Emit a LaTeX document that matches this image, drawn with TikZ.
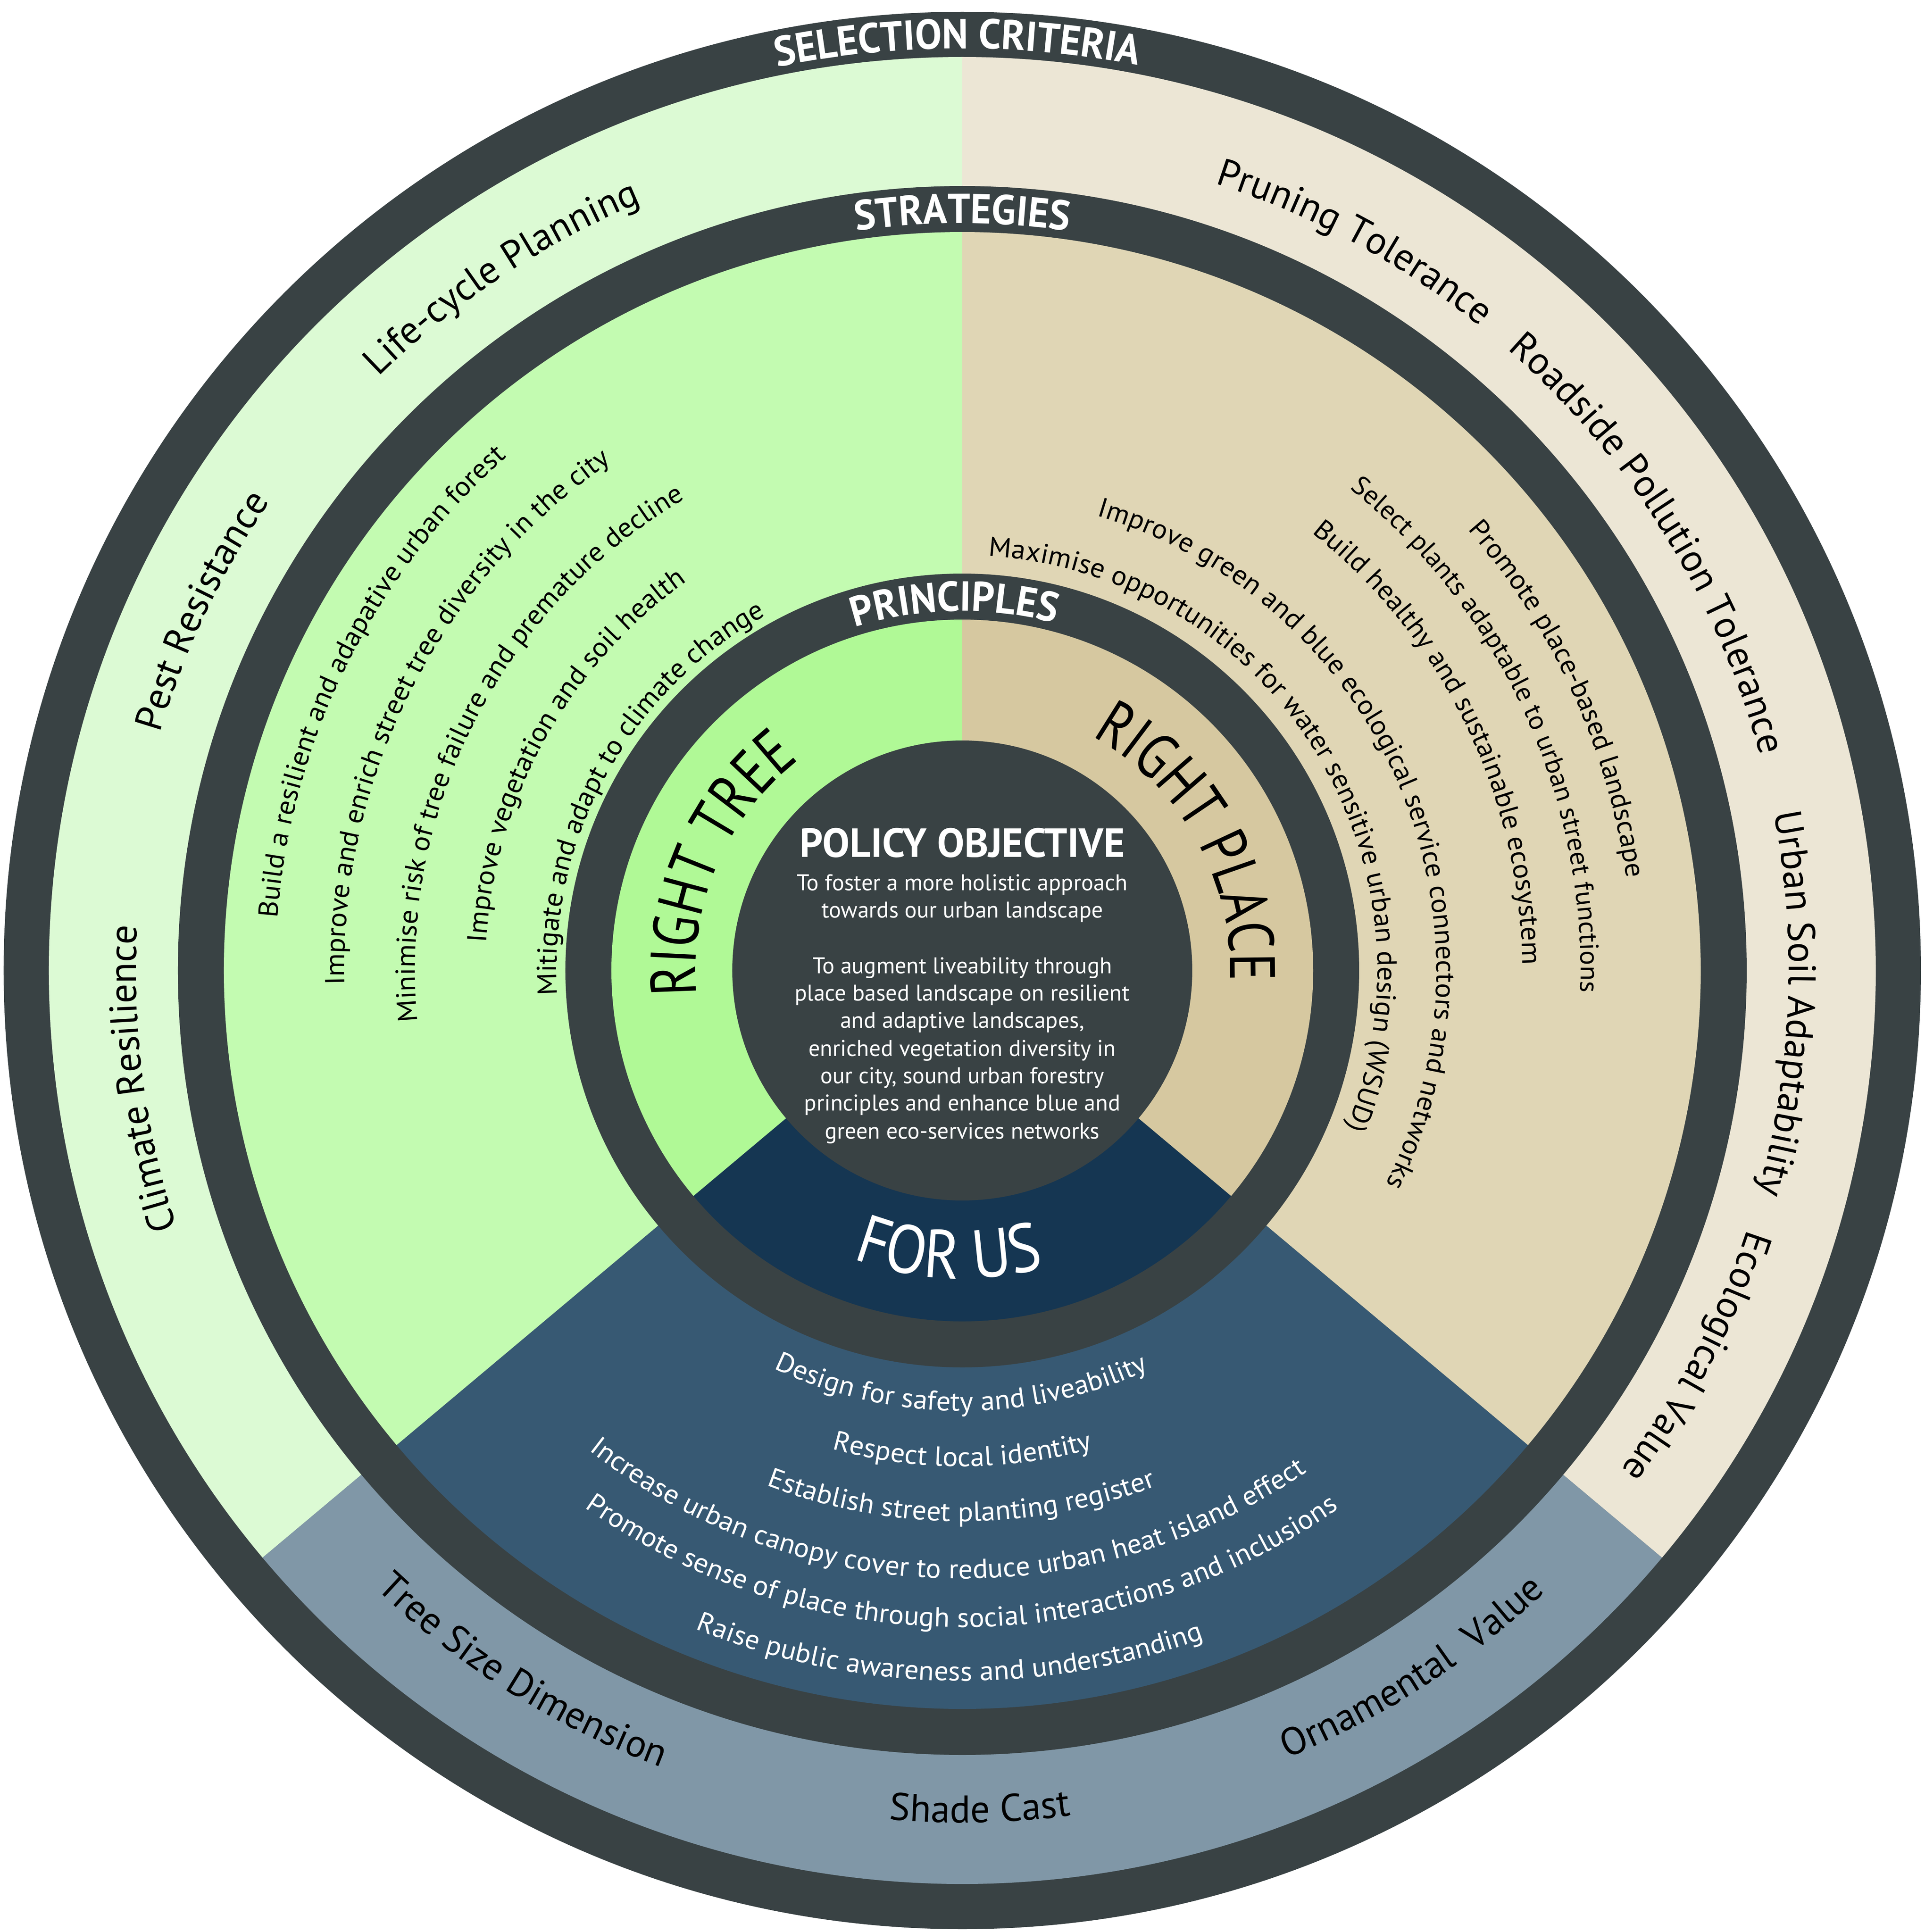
\documentclass[tikz,border=0pt]{standalone}
\usepackage{fontspec}
\setmainfont{PT Sans}
\newfontfamily\headfam{PT Sans}[FakeStretch=0.95]
\newfontfamily\bigfam{PT Sans}[FakeStretch=0.8]
\newfontfamily\forusfam{PT Sans}[FakeStretch=0.88]
\newfontfamily\stratfam{PT Sans}[FakeStretch=1.04]
\usetikzlibrary{decorations.text}
\definecolor{ringdark}{HTML}{394244}
\definecolor{selgreen}{HTML}{DCFAD4}
\definecolor{selbeige}{HTML}{ECE6D5}
\definecolor{selgrey}{HTML}{8097A7}
\definecolor{strgreen}{HTML}{C3FBB1}
\definecolor{strbeige}{HTML}{E0D6B5}
\definecolor{strblue}{HTML}{375973}
\definecolor{prigreen}{HTML}{B0F996}
\definecolor{pribeige}{HTML}{D6C8A0}
\definecolor{prinavy}{HTML}{153652}
% clockwise arc text (tops outward): #1 radius, #2 centre angle, #3 format, #4 text
\newcommand\cwtext[4]{%
  \pgfmathsetmacro\arcsa{#2+80}\pgfmathsetmacro\arcea{#2-80}%
  \path[decorate,decoration={text along path,text align=center,text={|#3|#4}}]
    (\arcsa:#1) arc[start angle=\arcsa,end angle=\arcea,radius=#1];}
% counter-clockwise arc text (tops inward)
\newcommand\ccwtext[4]{%
  \pgfmathsetmacro\arcsa{#2-80}\pgfmathsetmacro\arcea{#2+80}%
  \path[decorate,decoration={text along path,text align=center,text={|#3|#4}}]
    (\arcsa:#1) arc[start angle=\arcsa,end angle=\arcea,radius=#1];}
\newcommand\fhead{\headfam\fontsize{10.3pt}{12pt}\selectfont\bfseries\color{white}}
\newcommand\fouter{\fontsize{9.5pt}{11pt}\selectfont\color{black}}
\newcommand\fstrat{\stratfam\fontsize{6.75pt}{8pt}\selectfont\color{black}}
\newcommand\fstrats{\stratfam\fontsize{6.5pt}{8pt}\selectfont\color{black}}
\newcommand\fstratw{\stratfam\fontsize{6.75pt}{8pt}\selectfont\color{white}}
\newcommand\fbig{\bigfam\fontsize{15.8pt}{18pt}\selectfont\color{black}}
\newcommand\fbigw{\forusfam\fontsize{16.8pt}{19pt}\selectfont\color{white}}
\tikzset{
  poltitle/.style={anchor=base,inner sep=0pt,text=white,font=\fontsize{10pt}{12pt}\selectfont\bfseries},
  polbody/.style={anchor=base,inner sep=0pt,text=white,font=\fontsize{5.6pt}{6.8pt}\selectfont}
}
\begin{document}
\begin{tikzpicture}
\useasboundingbox (-236.4pt,-236.2pt) rectangle (236.5pt,238.4pt);
\fill[white] (-236.4pt,-236.2pt) rectangle (236.5pt,238.4pt);
% outer dark disk
\fill[ringdark] (0,0) circle[radius=235.5pt];
% selection criteria band
\fill[selgreen] (0,0) -- (90:224.4pt) arc[start angle=90,end angle=220,radius=224.4pt] -- cycle;
\fill[selbeige] (0,0) -- (-40:224.4pt) arc[start angle=-40,end angle=90,radius=224.4pt] -- cycle;
\fill[selgrey] (0,0) -- (220:224.4pt) arc[start angle=220,end angle=320,radius=224.4pt] -- cycle;
\fill[ringdark] (0,0) circle[radius=192.7pt];
% strategies band
\fill[strgreen] (0,0) -- (90:181.4pt) arc[start angle=90,end angle=220,radius=181.4pt] -- cycle;
\fill[strbeige] (0,0) -- (-40:181.4pt) arc[start angle=-40,end angle=90,radius=181.4pt] -- cycle;
\fill[strblue] (0,0) -- (220:181.4pt) arc[start angle=220,end angle=320,radius=181.4pt] -- cycle;
\fill[ringdark] (0,0) circle[radius=97.5pt];
% principles band
\fill[prigreen] (0,0) -- (90:86.2pt) arc[start angle=90,end angle=220,radius=86.2pt] -- cycle;
\fill[pribeige] (0,0) -- (-40:86.2pt) arc[start angle=-40,end angle=90,radius=86.2pt] -- cycle;
\fill[prinavy] (0,0) -- (220:86.2pt) arc[start angle=220,end angle=320,radius=86.2pt] -- cycle;
% centre
\fill[ringdark] (0,0) circle[radius=56.5pt];

% headers
\cwtext{226.5pt}{90.3}{\fhead}{SELECTION CRITERIA}
\cwtext{183.5pt}{90}{\fhead}{STRATEGIES}
\cwtext{88.3pt}{91.2}{\fhead}{PRINCIPLES}

% selection criteria labels
\cwtext{204.5pt}{123.6}{\fouter}{Life-cycle Planning}
\cwtext{205.5pt}{154.7}{\fouter}{Pest Resistance}
\cwtext{203pt}{187.5}{\fouter}{Climate Resilience}
\cwtext{203pt}{61.7}{\fouter}{Pruning Tolerance}
\cwtext{203pt}{31.9}{\fouter}{Roadside Pollution Tolerance}
\cwtext{203pt}{-2.3}{\fouter}{Urban Soil Adaptability}
\cwtext{203pt}{-27.7}{\fouter}{Ecological Value}
\ccwtext{209.3pt}{237.9}{\fouter}{Tree Size Dimension}
\ccwtext{209.3pt}{271.2}{\fouter}{Shade Cast}
\ccwtext{209.3pt}{302.8}{\fouter}{Ornamental {\ }Value}

% strategies left
\cwtext{168.7pt}{153.6}{\fstrat}{Build a resilient and adapative urban forest}
\cwtext{151.8pt}{153}{\fstrat}{Improve and enrich street tree diversity in the city}
\cwtext{134.4pt}{152.9}{\fstrat}{Minimise risk of tree failure and premature decline}
\cwtext{117.1pt}{151}{\fstrat}{Improve vegetation and soil health}
\cwtext{99.7pt}{151.2}{\fstrat}{Mitigate and adapt to climate change}

% strategies right
\cwtext{102pt}{32.1}{\fstrat}{Maximise opportunities for water sensitive urban design (WSUD)}
\cwtext{116.5pt}{23.4}{\fstrat}{Improve green and blue ecological service connectors and networks}
\cwtext{137.6pt}{26}{\fstrat}{Build healthy and sustainable ecosystem}
\cwtext{151.9pt}{24.6}{\fstrats}{Select plants adaptable to urban street functions}
\cwtext{164.7pt}{24.5}{\fstrat}{Promote place-based landscape}

% strategies bottom
\ccwtext{108.2pt}{269.8}{\fstratw}{Design for safety and liveability}
\ccwtext{121.8pt}{270}{\fstratw}{Respect local identity}
\ccwtext{135.3pt}{269.9}{\fstratw}{Establish street planting register}
\ccwtext{149.4pt}{268.3}{\fstratw}{Increase urban canopy cover to reduce urban heat island effect}
\ccwtext{161.3pt}{269.9}{\fstratw}{Promote sense of place through social interactions and inclusions}
\ccwtext{174.5pt}{268.9}{\fstratw}{Raise public awareness and understanding}

% principles
\cwtext{65.5pt}{156.5}{\fbig}{RIGHT TREE}
\cwtext{65.8pt}{29.4}{\fbig}{RIGHT PLACE}
\ccwtext{75.7pt}{267.3}{\fbigw}{FOR US}

% policy objective
\node[poltitle] (ptitle) at (0,27.9pt) {POLICY OBJECTIVE};
\node[polbody] (pb1) at (0,19.7pt) {To foster a more holistic approach};
\node[polbody] (pb2) at (0,13.0pt) {towards our urban landscape};
\node[polbody] (pb3) at (0,-0.7pt) {To augment liveability through};
\node[polbody] (pb4) at (0,-7.4pt) {place based landscape on resilient};
\node[polbody] (pb5) at (0,-14.1pt) {and adaptive landscapes,};
\node[polbody] (pb6) at (0,-21.0pt) {enriched vegetation diversity in};
\node[polbody] (pb7) at (0,-27.7pt) {our city, sound urban forestry};
\node[polbody] (pb8) at (0,-34.4pt) {principles and enhance blue and};
\node[polbody] (pb9) at (0,-41.3pt) {green eco-services networks};
\end{tikzpicture}
\end{document}
